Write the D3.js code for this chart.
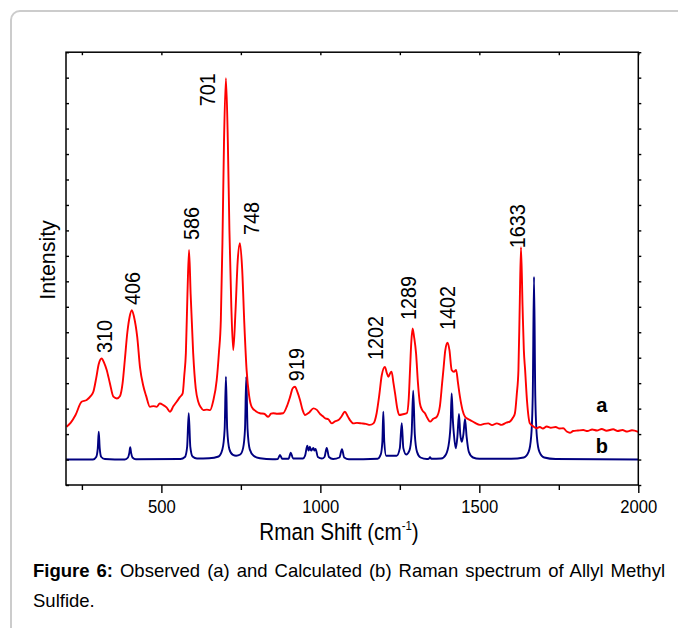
<!DOCTYPE html>
<html>
<head>
<meta charset="utf-8">
<script src="https://cdn.jsdelivr.net/npm/d3@7/dist/d3.min.js"></script>
<style>
  html, body { margin: 0; padding: 0; background: #fff; }
  svg { display: block; }
  text { font-family: "Liberation Sans", Arial, sans-serif; fill: #000; }
</style>
</head>
<body>
<svg id="chart" width="678" height="628"></svg>
<script>
// ---- Data ----
// Observed Raman spectrum (a): [Raman shift cm-1, intensity a.u.]
const observedA = [
  [202,2.29],[215,2.45],[230,2.75],[249,3.27],[265,3.34],[278,3.50],[286,3.66],[295,4.2],[303,4.75],
  [312,4.97],[320,4.8],[328,4.52],[338,4.0],[349,3.47],[360,3.40],[370,3.50],[378,4.0],[385,4.91],
  [393,6.0],[400,6.6],[407,6.87],[414,6.6],[424,5.82],[433,4.6],[443,3.90],[452,3.50],[464,3.07],
  [475,3.10],[485,3.07],[495,3.20],[506,3.14],[516,3.05],[527,2.88],[538,3.1],[548,3.27],[558,3.45],
  [567,3.60],[572,4.3],[577,5.18],[582,7.5],[587,9.23],[592,7.5],[600,5.18],[608,3.8],[616,3.27],
  [624,3.05],[632,2.94],[643,2.96],[653,2.94],[663,3.3],[674,4.12],[681,5.2],[687,6.48],[692,9.5],
  [697,13.5],[703,15.98],[709,13.5],[714,10],[720,7],[726,5.30],[733,6.8],[740,8.8],[747,9.50],
  [754,8.5],[761,6.3],[768,4.52],[776,3.5],[784,3.07],[797,2.90],[810,2.82],[823,2.80],[836,2.68],
  [845,2.80],[852,2.82],[865,2.80],[883,2.82],[895,3.1],[905,3.47],[913,3.8],[920,3.86],[928,3.65],
  [936,3.34],[944,2.95],[952,2.75],[965,2.85],[978,3.01],[989,2.95],[1000,2.78],[1008,2.70],
  [1015,2.62],[1025,2.58],[1036,2.42],[1046,2.50],[1057,2.55],[1067,2.70],[1077,2.88],[1086,2.70],
  [1093,2.55],[1104,2.42],[1115,2.44],[1130,2.42],[1143,2.40],[1156,2.36],[1167,2.42],[1177,2.82],
  [1185,3.5],[1193,4.3],[1203,4.64],[1209,4.40],[1214,4.25],[1220,4.40],[1224,4.45],[1230,4.0],
  [1235,3.6],[1242,3.0],[1248,2.75],[1260,2.78],[1272,2.82],[1278,3.4],[1282,4.52],[1286,5.6],
  [1290,6.15],[1295,5.8],[1301,5.17],[1307,4.0],[1313,3.21],[1320,2.95],[1329,2.82],[1337,2.62],
  [1345,2.49],[1355,2.6],[1366,2.68],[1376,3.1],[1383,4.0],[1387,4.52],[1393,5.3],[1400,5.59],
  [1406,5.3],[1413,4.52],[1420,4.45],[1427,4.52],[1433,4.0],[1439,3.47],[1447,2.95],[1455,2.68],
  [1463,2.60],[1471,2.55],[1485,2.45],[1502,2.36],[1515,2.40],[1528,2.42],[1540,2.35],[1555,2.42],
  [1570,2.36],[1585,2.45],[1596,2.49],[1606,2.65],[1612,2.82],[1618,3.6],[1623,4.52],[1627,7.0],
  [1631,9.34],[1636,7.0],[1640,5.3],[1644,4.52],[1650,3.3],[1659,2.42],[1670,2.30],[1680,2.23],
  [1690,2.28],[1700,2.22],[1712,2.30],[1725,2.25],[1740,2.28],[1752,2.22],[1764,2.23],[1775,2.10],
  [1785,2.05],[1795,2.12],[1810,2.14],[1827,2.16],[1840,2.12],[1855,2.18],[1870,2.14],[1885,2.20],
  [1900,2.13],[1921,2.19],[1935,2.12],[1950,2.16],[1965,2.10],[1980,2.15],[2000,2.09]
];

// Calculated Raman spectrum (b)
const calculatedB = [
  [200,1.0],[285,1.0],[295,1.1],[300,1.45],[303,2.09],[306,1.45],[311,1.1],[322,1.02],
  [385,1.0],[395,1.08],[399,1.25],[402,1.48],[405,1.25],[409,1.08],[420,1.01],
  [560,1.02],[574,1.1],[581,1.5],[586,2.82],[591,1.5],[598,1.12],[612,1.04],
  [650,1.05],[680,1.12],[692,1.4],[699,2.2],[703,4.25],[707,2.2],[714,1.4],[725,1.18],
  [735,1.15],[748,1.2],[757,1.45],[763,2.2],[767,4.25],[771,2.2],[778,1.4],[790,1.15],[810,1.05],[850,1.01],
  [866,1.02],[873,1.18],[880,1.03],[900,1.03],[907,1.27],[914,1.04],
  [945,1.04],[952,1.15],[959,1.54],[963,1.35],[967,1.50],[971,1.35],[978,1.46],[981,1.35],[985,1.42],[992,1.1],[1005,1.04],
  [1013,1.1],[1020,1.46],[1027,1.1],[1040,1.02],[1060,1.08],[1068,1.41],[1075,1.08],[1090,1.01],
  [1180,1.03],[1190,1.2],[1195,1.7],[1198,2.88],[1201,1.7],[1207,1.15],
  [1240,1.15],[1250,1.45],[1256,2.43],[1261,1.45],[1270,1.2],[1280,1.35],[1287,2.0],[1292,3.70],[1297,2.0],[1304,1.3],[1315,1.08],[1335,1.02],
  [1341,1.03],[1345,1.09],[1349,1.03],
  [1380,1.04],[1395,1.2],[1405,1.7],[1410,2.5],[1413,3.60],[1417,2.5],[1420,2.0],[1426,1.44],[1431,1.9],[1436,2.79],[1440,2.0],
  [1445,1.70],[1450,2.0],[1455,2.59],[1460,1.9],[1467,1.3],[1480,1.08],[1500,1.03],
  [1600,1.03],[1640,1.08],[1655,1.3],[1663,1.9],[1668,3.5],[1672,8.18],[1676,3.5],[1681,1.9],[1689,1.3],[1704,1.08],[1740,1.02],[2000,1.0]
];

// Peak labels: [text, label centre (cm-1), label bottom (intensity)]
const peakLabels = [
  ["310", 320, 5.18], ["406", 409, 7.07], ["586", 592, 9.62], ["701", 642, 14.88],
  ["748", 782, 9.82], ["919", 923, 4.08], ["1202", 1172, 4.91], ["1289", 1276, 6.48],
  ["1402", 1398, 6.09], ["1633", 1618, 9.30]
];

// Trace labels: [text, x (cm-1), y (intensity)]
const traceLabels = [["a", 1885, 2.85], ["b", 1885, 1.25]];

const xMajorTicks = [500, 1000, 1500, 2000];
const xMinorTicks = [250, 750, 1250, 1750];
const xAllTicks = [250, 500, 750, 1000, 1250, 1500, 1750, 2000];
const yTicks = d3.range(0, 18, 1);

const xLabel = "Rman Shift (cm";
const xLabelSup = "-1";
const yLabel = "Intensity";
const captionBold = "Figure 6:";
const captionLine1 = " Observed (a) and Calculated (b) Raman spectrum of Allyl Methyl";
const captionLine2 = "Sulfide.";

// ---- Layout ----
const svg = d3.select("#chart");
const L = 66, R = 638.3, T = 52.2, B = 485;

// card
svg.append("rect")
  .attr("x", 11).attr("y", 11).attr("width", 720).attr("height", 680)
  .attr("rx", 9).attr("ry", 9)
  .attr("fill", "#fff").attr("stroke", "#cccccc").attr("stroke-width", 2);

const x = d3.scaleLinear().domain([200, 2000]).range([L, R]);
const y = d3.scaleLinear().domain([0, 17]).range([B, T]);

const line = d3.line().x(d => x(d[0])).y(d => y(d[1])).curve(d3.curveMonotoneX);

const plot = svg.append("g");
plot.append("path").datum(calculatedB)
  .attr("d", line).attr("fill", "none").attr("stroke", "#000080").attr("stroke-width", 1.9)
  .attr("stroke-linejoin", "round");
plot.append("path").datum(observedA)
  .attr("d", line).attr("fill", "none").attr("stroke", "#ff0000").attr("stroke-width", 1.9)
  .attr("stroke-linejoin", "round");

// axes
function styleAxis(g) {
  g.select(".domain").remove();
  g.selectAll(".tick line").attr("stroke", "#000").attr("stroke-width", 1.4);
}
svg.append("g").attr("transform", `translate(0,${B})`)
  .call(d3.axisBottom(x).tickValues(xMinorTicks).tickSize(5).tickFormat(""))
  .call(styleAxis);
const bx = svg.append("g").attr("transform", `translate(0,${B})`)
  .call(d3.axisBottom(x).tickValues(xMajorTicks).tickSize(8).tickFormat(d3.format("d")))
  .call(styleAxis);
bx.selectAll(".tick text")
  .attr("y", null).attr("dy", null)
  .attr("transform", "translate(0,27.5) scale(0.9,1)")
  .style("font-size", "18.5px").style("font-family", "'Liberation Sans', Arial, sans-serif").attr("fill", "#000");

svg.append("g").attr("transform", `translate(0,${T})`)
  .call(d3.axisTop(x).tickValues(xAllTicks).tickSize(-3).tickFormat(""))
  .call(styleAxis);
svg.append("g").attr("transform", `translate(${L},0)`)
  .call(d3.axisLeft(y).tickValues(yTicks).tickSize(-3).tickFormat(""))
  .call(styleAxis);
svg.append("g").attr("transform", `translate(${R},0)`)
  .call(d3.axisRight(y).tickValues(yTicks).tickSize(3).tickFormat(""))
  .call(styleAxis);

// frame
svg.append("rect")
  .attr("x", L).attr("y", T).attr("width", R - L).attr("height", B - T)
  .attr("fill", "none").attr("stroke", "#000").attr("stroke-width", 1.5);

// peak labels
svg.append("g").selectAll("text").data(peakLabels).join("text")
  .attr("transform", d => `translate(${x(d[1]) + 8},${y(d[2])}) rotate(-90) scale(0.88,1)`)
  .attr("text-anchor", "start")
  .style("font-size", "22.5px")
  .text(d => d[0]);

// trace labels
svg.append("g").selectAll("text").data(traceLabels).join("text")
  .attr("x", d => x(d[1])).attr("y", d => y(d[2]))
  .attr("text-anchor", "middle")
  .style("font-size", "20px").style("font-weight", "bold")
  .text(d => d[0]);

// axis titles
const xt = svg.append("text")
  .attr("transform", "translate(339,539.5) scale(0.88,1)")
  .attr("text-anchor", "middle")
  .style("font-size", "23.5px");
xt.append("tspan").text(xLabel);
xt.append("tspan").text(xLabelSup).style("font-size", "13px").attr("dy", -10);
xt.append("tspan").text(")").attr("dy", 10);

svg.append("text")
  .attr("transform", `translate(55,260) rotate(-90) scale(0.93,1)`)
  .attr("text-anchor", "middle")
  .style("font-size", "23px")
  .text(yLabel);

// caption (justified first line)
const c1 = svg.append("text").attr("x", 33).attr("y", 577).style("font-size", "18.5px");
c1.append("tspan").text(captionBold).style("font-weight", "bold");
c1.append("tspan").text(captionLine1);
const natural = c1.node().getComputedTextLength();
const nSpaces = (captionBold + captionLine1).split(" ").length - 1;
const target = 665 - 33;
if (natural < target) c1.style("word-spacing", ((target - natural) / nSpaces) + "px");
svg.append("text").attr("x", 33).attr("y", 606.5).style("font-size", "18.5px").text(captionLine2);
</script>
</body>
</html>
